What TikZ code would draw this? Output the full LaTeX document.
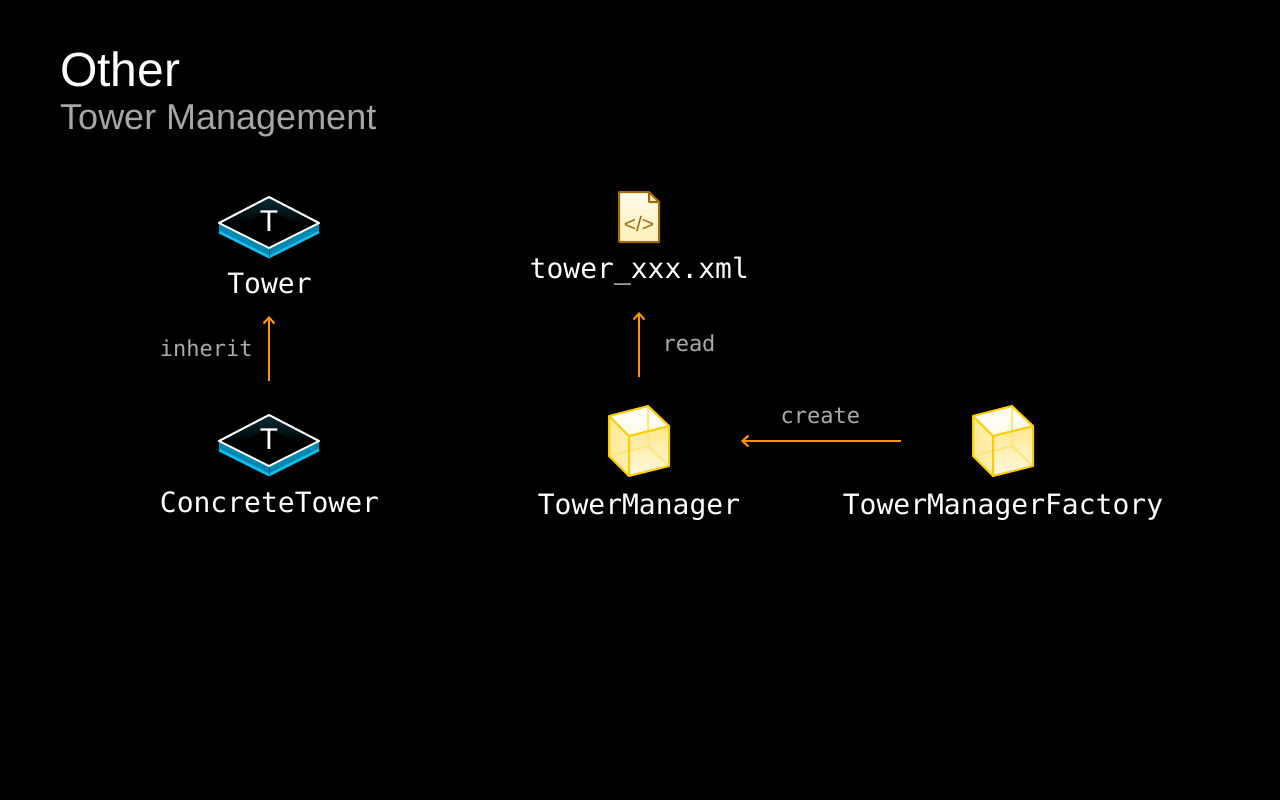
\documentclass[tikz,border=0pt]{standalone}
\usepackage{fontspec}
\setmainfont{Liberation Sans}
\setmonofont{DejaVu Sans Mono}
\usetikzlibrary{arrows.meta}

\definecolor{linkorange}{HTML}{FF9500}
\definecolor{towerblue}{HTML}{0088B0}
\definecolor{towerbright}{HTML}{10BEF0}
\definecolor{towerteal}{HTML}{0C3A44}
\definecolor{cubeyellow}{HTML}{FFCC00}
\definecolor{filebrown}{HTML}{A06A08}

\tikzset{
  headingtext/.style={inner sep=0pt, anchor=base west, text=white, font=\fontsize{48}{48}\selectfont},
  subheadingtext/.style={inner sep=0pt, anchor=base west, text=black!35!white, font=\fontsize{36}{36}\selectfont},
  nametext/.style={inner sep=0pt, text=white, font=\ttfamily\fontsize{28}{28}\selectfont},
  notetext/.style={inner sep=0pt, text=black!33!white, font=\ttfamily\fontsize{22}{22}\selectfont},
  linkarrow/.style={draw=linkorange, line width=2pt, -{Straight Barb[length=6pt,width=11pt]}},
  pics/towericon/.style={code={
    \fill[towerblue] (-50,0) -- (0,25) -- (50,0) -- (50,9) -- (0,34) -- (-50,9) -- cycle;
    \draw[towerbright, line width=2.5pt, line join=round] (-50,9) -- (0,34) -- (50,9);
    \draw[towerblue!70!black, line width=1pt] (0,25) -- (0,34);
    \shade[top color=towerteal!80!black, bottom color=black] (-50,0) -- (0,-26) -- (50,0) -- (32,2) -- (0,-12) -- (-32,2) -- cycle;
    \draw[white, line width=2pt, line join=round] (-50,0) -- (0,-26) -- (50,0) -- (0,25) -- cycle;
    \node[inner sep=0pt, text=white, font=\fontsize{30}{30}\selectfont] at (0,-2) {T};
  }},
  pics/cubeicon/.style={code={
    \shade[top color=white, bottom color=cubeyellow!10] (-30,-25) -- (9,-35) -- (30,-15) -- (-10,-5) -- cycle;
    \shade[left color=cubeyellow!42, right color=cubeyellow!30] (-30,-25) -- (-10,-5) -- (-10,35) -- (-30,15) -- cycle;
    \shade[top color=cubeyellow!45, bottom color=cubeyellow!12] (-10,-5) -- (30,-15) -- (30,25) -- (-10,35) -- cycle;
    \draw[cubeyellow!50, line width=2pt] (9,-35) -- (9,5) -- (-30,15) (9,5) -- (30,25);
    \draw[cubeyellow, line width=2pt, line join=round] (-30,-25) -- (9,-35) -- (30,-15) -- (30,25) -- (-10,35) -- (-30,15) -- cycle;
    \draw[cubeyellow, line width=2pt, line join=round] (-30,-25) -- (-10,-5) -- (30,-15) (-10,-5) -- (-10,35);
  }},
  pics/fileicon/.style={code={
    \shade[top color=white!92!cubeyellow, bottom color=cubeyellow!28, draw=filebrown, line width=2pt, line join=round]
      (-20,-25) -- (10,-25) -- (20,-15) -- (20,25) -- (-20,25) -- cycle;
    \fill[cubeyellow!25, draw=filebrown, line width=2pt, line join=round] (10,-25) -- (10,-15) -- (20,-15) -- cycle;
    \node[inner sep=0pt, text=filebrown, font=\fontsize{21}{21}\selectfont] at (0,6.5) {</>};
  }},
}

\begin{document}
\begin{tikzpicture}[x=1pt, y=-1pt]
  \fill[black] (0,0) rectangle (1280,800);
  \useasboundingbox (0,0) rectangle (1280,800);

  \node[headingtext] (heading) at (60,86) {Other};
  \node[subheadingtext] (subheading) at (60,129) {Tower Management};

  % left column
  \pic at (269,223) {towericon};
  \node[nametext] (tower) at (269.5,283) {Tower};
  \pic at (269,441) {towericon};
  \node[nametext] (concretetower) at (269.5,502) {ConcreteTower};
  \coordinate (inheritfrom) at (269,381);
  \coordinate (inheritto) at (269,316);
  \draw[linkarrow] (inheritfrom) -- (inheritto);
  \node[notetext] (inherit) at (206.3,348) {inherit};

  % middle column
  \pic at (639,217) {fileicon};
  \node[nametext] (towerxml) at (639.3,271) {tower\_xxx.xml};
  \pic at (639,441) {cubeicon};
  \node[nametext] (manager) at (639,507) {TowerManager};
  \coordinate (readfrom) at (639,377);
  \coordinate (readto) at (639,312);
  \draw[linkarrow] (readfrom) -- (readto);
  \node[notetext] (read) at (689,343) {read};

  % factory
  \pic at (1003,441) {cubeicon};
  \node[nametext] (factory) at (1003,507) {TowerManagerFactory};
  \coordinate (createfrom) at (901,441);
  \coordinate (createto) at (741,441);
  \draw[linkarrow] (createfrom) -- (createto);
  \node[notetext] (create) at (820.3,416) {create};
\end{tikzpicture}
\end{document}
